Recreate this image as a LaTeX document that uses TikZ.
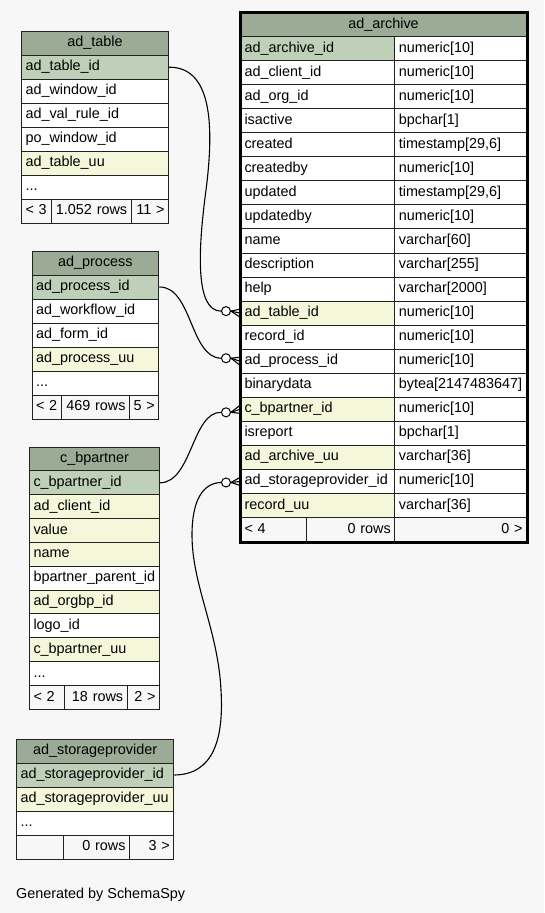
\documentclass[tikz,border=0pt]{standalone}
\usepackage{fontspec}
\setmainfont{Liberation Sans}
\usetikzlibrary{calc}
\definecolor{bgc}{HTML}{F7F7F7}
\definecolor{hdrc}{HTML}{9BAB96}
\definecolor{pkc}{HTML}{BED1B8}
\definecolor{ixc}{HTML}{F4F7DA}
\definecolor{wc}{HTML}{FFFFFF}
\definecolor{linec}{HTML}{222222}
\newcommand\tdots{...}
\begin{document}
\begin{tikzpicture}[x=1pt,y=-1pt,
  cell/.style={draw=linec, line width=1pt, anchor=north west, minimum height=24pt,
    inner xsep=4pt, inner ysep=0pt, text height=10pt, text depth=3pt,
    font=\fontsize{14.4}{16}\selectfont},
  lc/.style={cell, align=left},
  rc/.style={cell, align=right},
  hc/.style={cell, fill=hdrc, align=center},
  ft/.style={fill=bgc},
  rel/.style={draw=black, line width=1.1pt},
  optc/.style={circle, draw=black, fill=white, line width=1pt, inner sep=0pt, minimum size=9pt},
  crow/.style={draw=black, line width=1.1pt}
]
\fill[bgc] (0,0) rectangle (544,913);
\useasboundingbox (0,0) rectangle (544,913);

% ---------------- ad_table ----------------
\node[hc, text width=139pt] (adth) at (21,30.7) {ad\_table};
\foreach [count=\i] \t/\f in {ad\_table\_id/pkc, ad\_window\_id/wc, ad\_val\_rule\_id/wc, po\_window\_id/wc, ad\_table\_uu/ixc, \tdots/wc}
  \node[lc, fill=\f, text width=139pt] (adt\i) at (21,{30.7+24*\i}) {\t};
\node[lc, ft, text width=21.7pt] (adtf1) at (21,198.7) {< 3};
\node[rc, ft, text width=72pt] (adtf2) at (50.7,198.7) {1.052 rows};
\node[rc, ft, text width=29.3pt] (adtf3) at (130.7,198.7) {11 >};

% ---------------- ad_process ----------------
\node[hc, text width=118.8pt] (adph) at (31.5,250.5) {ad\_process};
\foreach [count=\i] \t/\f in {ad\_process\_id/pkc, ad\_workflow\_id/wc, ad\_form\_id/wc, ad\_process\_uu/ixc, \tdots/wc}
  \node[lc, fill=\f, text width=118.8pt] (adp\i) at (31.5,{250.5+24*\i}) {\t};
\node[lc, ft, text width=21.5pt] (adpf1) at (31.5,394.5) {< 2};
\node[rc, ft, text width=60pt] (adpf2) at (61,394.5) {469 rows};
\node[rc, ft, text width=21.3pt] (adpf3) at (129,394.5) {5 >};

% ---------------- c_bpartner ----------------
\node[hc, text width=122pt] (cbph) at (29,446.5) {c\_bpartner};
\foreach [count=\i] \t/\f in {c\_bpartner\_id/pkc, ad\_client\_id/ixc, value/ixc, name/ixc, bpartner\_parent\_id/wc, ad\_orgbp\_id/ixc, logo\_id/wc, c\_bpartner\_uu/ixc, \tdots/wc}
  \node[lc, fill=\f, text width=122pt] (cbp\i) at (29,{446.5+23.85*\i}) {\t};
\node[lc, ft, text width=26.7pt] (cbpf1) at (29,685.0) {< 2};
\node[rc, ft, text width=55pt] (cbpf2) at (63.7,685.0) {18 rows};
\node[rc, ft, text width=24.3pt] (cbpf3) at (126.7,685.0) {2 >};

% ---------------- ad_storageprovider ----------------
\node[hc, text width=149.3pt] (asph) at (16,738.5) {ad\_storageprovider};
\foreach [count=\i] \t/\f in {ad\_storageprovider\_id/pkc, ad\_storageprovider\_uu/ixc, \tdots/wc}
  \node[lc, fill=\f, text width=149.3pt] (asp\i) at (16,{738.5+24*\i}) {\t};
\node[lc, ft, text width=38.7pt] (aspf1) at (16,834.5) {};
\node[rc, ft, text width=58.3pt] (aspf2) at (62.7,834.5) {0 rows};
\node[rc, ft, text width=36.3pt] (aspf3) at (129,834.5) {3 >};

% ---------------- ad_archive ----------------
\node[hc, text width=278pt, minimum height=24.05pt] (arch) at (240,12) {ad\_archive};
\foreach [count=\i] \t/\f/\y in {
  ad\_archive\_id/pkc/numeric[10],
  ad\_client\_id/wc/numeric[10],
  ad\_org\_id/wc/numeric[10],
  isactive/wc/bpchar[1],
  created/wc/{timestamp[29,6]},
  createdby/wc/numeric[10],
  updated/wc/{timestamp[29,6]},
  updatedby/wc/numeric[10],
  name/wc/varchar[60],
  description/wc/varchar[255],
  help/wc/varchar[2000],
  ad\_table\_id/ixc/numeric[10],
  record\_id/wc/numeric[10],
  ad\_process\_id/wc/numeric[10],
  binarydata/wc/bytea[2147483647],
  c\_bpartner\_id/ixc/numeric[10],
  isreport/wc/bpchar[1],
  ad\_archive\_uu/ixc/varchar[36],
  ad\_storageprovider\_id/wc/numeric[10],
  record\_uu/ixc/varchar[36]}
{
  \node[lc, fill=\f, text width=146.3pt, minimum height=24.05pt] (archL\i) at (240,{12+24.05*\i}) {\t};
  \node[lc, fill=wc, text width=123.7pt, minimum height=24.05pt] (archR\i) at (394.3,{12+24.05*\i}) {\y};
}
\node[lc, ft, text width=58pt, minimum height=24.05pt] (archf1) at (240,517.05) {< 4};
\node[rc, ft, text width=80.3pt, minimum height=24.05pt] (archf2) at (306,517.05) {0 rows};
\node[rc, ft, text width=123.7pt, minimum height=24.05pt] (archf3) at (394.3,517.05) {0 >};
\draw[line width=3pt, draw=black] (arch.north west) rectangle (archf3.south east);

% ---------------- relationships ----------------
\node[optc] (o1) at ($(archL12.west)+(-14,-2)$) {};
\node[optc] (o2) at ($(archL14.west)+(-14,-3)$) {};
\node[optc] (o3) at ($(archL16.west)+(-14,3)$) {};
\node[optc] (o4) at ($(archL19.west)+(-14,1)$) {};

\foreach \o/\r in {o1/archL12, o2/archL14, o3/archL16, o4/archL19} {
  \draw[crow] (\o.east) -- ($(\r.west)+(0,-4)$);
  \draw[crow] (\o.east) -- (\r.west);
  \draw[crow] (\o.east) -- ($(\r.west)+(0,4)$);
}

\draw[rel] (adt1.east) .. controls (210,67) and (215,120) .. (206,190)
  .. controls (198,250) and (195,311) .. (o1.west);
\draw[rel] (adp1.east) .. controls (192,286.5) and (190,357.5) .. (o2.west);
\draw[rel] (cbp1.east) .. controls (192,482.3) and (192,412) .. (o3.west);
\draw[rel] (asp1.east) .. controls (213,774.5) and (224,740) .. (221,690)
  .. controls (218,630) and (192,585) .. (192,535)
  .. controls (192,500) and (203,483) .. (o4.west);

\node[anchor=base west, inner sep=0pt, font=\fontsize{14.4}{16}\selectfont] (gen) at (16,898) {Generated by SchemaSpy};
\end{tikzpicture}
\end{document}
